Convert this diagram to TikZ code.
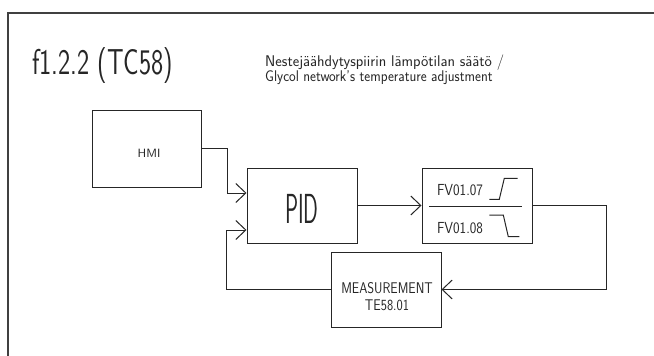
\documentclass[tikz,border=0pt]{standalone}
\usepackage{fontspec}
\usepackage{graphicx}
\usetikzlibrary{arrows.meta,calc}
\newcommand{\cadtxt}[3]{\fontsize{#1}{#1}\selectfont\scalebox{#2}[1]{#3}}
\begin{document}
\begin{tikzpicture}[x=1pt,y=-1pt,
  ln/.style={line width=1pt,draw=black!85},
  blk/.style={ln,rectangle,minimum width=110pt,minimum height=75pt,inner sep=0pt,font=\sffamily},
  arr/.style={ln,-{Straight Barb[length=10pt,width=19pt,line width=1pt]}},
  lbl/.style={inner sep=0pt,font=\sffamily,text=black!85}]
\useasboundingbox (0,0) rectangle (654,356);
% frame (top and left edges)
\draw[line width=1.4pt,draw=black!75] (8,356) -- (8,13) -- (654,13);
% title
\node[lbl,anchor=base west] (title) at (32,74) {\cadtxt{36}{0.72}{f1.2.2 (TC58)}};
\node[lbl,anchor=base west] (sub1) at (265,66) {\cadtxt{15.5}{1.0}{Nestejäähdytyspiirin lämpötilan säätö /}};
\node[lbl,anchor=base west] (sub2) at (265,81) {\cadtxt{15.5}{0.91}{Glycol network's temperature adjustment}};
% blocks
\node[blk,minimum width=109pt,minimum height=77pt] (hmi) at (146.5,148.5) {};
\node[lbl,anchor=base] (hmit) at (149,157.5) {\cadtxt{12}{1.05}{HMI}};
\node[blk] (pid) at (302,205.5) {};
\node[lbl,anchor=base] (pidt) at (302,223) {\cadtxt{42}{0.52}{PID}};
\node[blk] (fv) at (477,205.5) {};
\node[blk] (meas) at (386,289.5) {};
\node[lbl,anchor=base] (meast) at (387,293) {\cadtxt{15.5}{0.84}{MEASUREMENT}};
\node[lbl,anchor=base] (teno) at (387,310) {\cadtxt{15.5}{0.85}{TE58.01}};
% valve block content
\draw[ln] (429,206) -- (522,206);
\node[lbl,anchor=base] (fv7) at (460,195) {\cadtxt{16}{0.87}{FV01.07}};
\node[lbl,anchor=base] (fv8) at (460,233) {\cadtxt{16}{0.87}{FV01.08}};
\draw[ln] (489.3,199.3) -- (499.3,199.3) -- (504.3,178.3) -- (517.7,178.3);
\draw[ln] (489.3,215) -- (503.3,215) -- (508.3,236.7) -- (519.3,236.7);
% connectors
\draw[arr] (hmi.east) -- ++(26,0) |- ([yshift=12.5pt]pid.west);
\draw[arr] (meas.west) -- ++(-104,0) |- ([yshift=-24.5pt]pid.west);
\draw[arr] (pid.east) -- (fv.west);
\draw[arr] (fv.east) -- ++(74,0) |- (meas.east);
\end{tikzpicture}
\end{document}
